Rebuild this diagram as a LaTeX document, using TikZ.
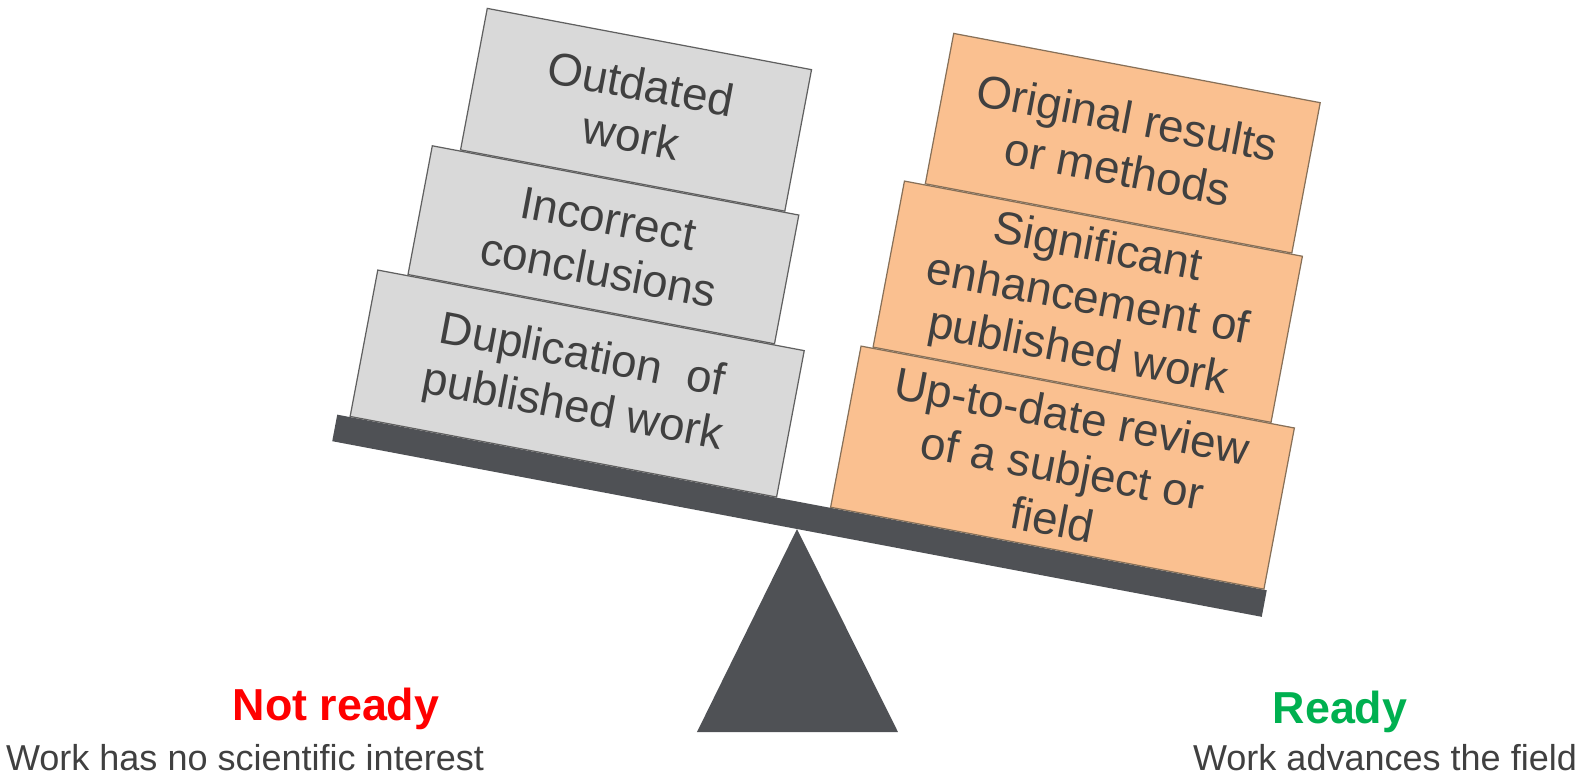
\documentclass[tikz,border=0pt]{standalone}
\usepackage{fontspec}
\setmainfont{Liberation Sans}
\usetikzlibrary{positioning}

\definecolor{beamgray}{RGB}{79,81,85}
\definecolor{boxgray}{RGB}{217,217,217}
\definecolor{boxpeach}{RGB}{250,192,144}
\definecolor{textgray}{RGB}{64,64,64}
\definecolor{readygreen}{RGB}{0,176,80}

\begin{document}
\begin{tikzpicture}[
    node distance=0pt,
    greybox/.style={rectangle, draw=gray!75!black, fill=boxgray, line width=0.7pt, inner sep=0pt, align=center, text=textgray, font=\fontsize{26}{30}\selectfont, transform shape},
    peachbox/.style={greybox, draw=brown!50!black!75, fill=boxpeach},
    verdict/.style={font=\fontsize{25.5}{30}\selectfont\bfseries},
    remark/.style={font=\fontsize{20.5}{24}\selectfont, text=textgray}
]
\useasboundingbox (-15.94,-5.08) rectangle (15.8,10.58);

% Pivot
\coordinate (pivot) at (0,0);
\fill[beamgray] (pivot) -- (-2.0,-4.06) -- (2.02,-4.06) -- cycle;

% Tilted beam with the loads
\begin{scope}[rotate=-10.7]
\fill[beamgray] (-9.46,0) rectangle (9.46,0.54);

% Left pile
\node[greybox, minimum width=8.68cm, minimum height=2.98cm, anchor=south] (dup) at (-4.86,0.54) {Duplication\ \ of\\published work};
\node[greybox, minimum width=7.46cm, minimum height=2.62cm, above=of dup] (incorrect) {Incorrect\\conclusions};
\node[greybox, minimum width=6.6cm, minimum height=2.88cm, above=of incorrect, xshift=0.14cm] (outdated) {Outdated\\work};

% Right pile
\node[peachbox, minimum width=8.82cm, minimum height=3.28cm, anchor=south] (review) at (4.99,0.54) {Up-to-date review\\of a subject or\\field};
\node[peachbox, minimum width=8.1cm, minimum height=3.38cm, above=of review, xshift=-0.12cm] (enhance) {Significant\\enhancement of\\published work};
\node[peachbox, minimum width=7.46cm, minimum height=3.06cm, above=of enhance, xshift=0.1cm] (original) {Original results\\or methods};
\end{scope}

% Verdicts
\node[verdict, text=red, anchor=base] (notready) at (-9.22,-3.82) {Not ready};
\node[remark, below=1cm of notready.base, anchor=base, xshift=-1.82cm] (notready-note) {Work has no scientific interest};
\node[verdict, text=readygreen, anchor=base] (ready) at (10.86,-3.88) {Ready};
\node[remark, below=0.94cm of ready.base, anchor=base, xshift=0.9cm] (ready-note) {Work advances the field};

\end{tikzpicture}
\end{document}
